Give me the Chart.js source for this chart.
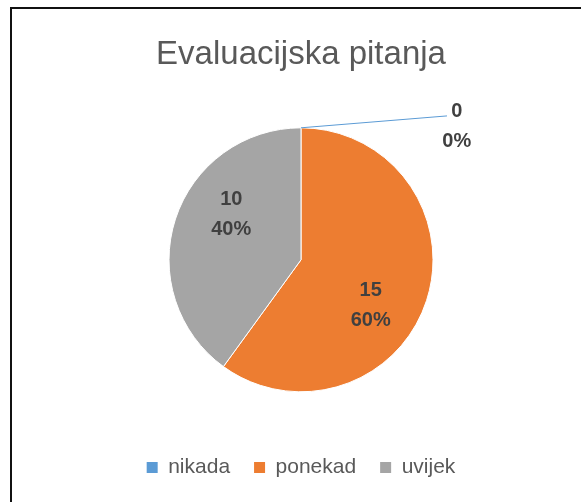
<!DOCTYPE html>
<html>
<head>
<meta charset="utf-8">
<script src="https://cdn.jsdelivr.net/npm/chart.js@4/dist/chart.umd.min.js"></script>
<style>
  html, body { margin: 0; padding: 0; background: #fff; }
  #wrap { position: relative; width: 581px; height: 502px; overflow: hidden; }
  #frame {
    position: absolute; left: 10px; top: 7px; width: 600px; height: 520px;
    border-left: 2px solid #111; border-top: 2px solid #111;
  }
  #chart { position: absolute; left: 0; top: 0; }
</style>
</head>
<body>
<div id="wrap">
  <div id="frame"></div>
  <canvas id="chart" width="581" height="502"></canvas>
</div>
<script>
const title = "Evaluacijska pitanja";
const categories = ["nikada", "ponekad", "uvijek"];
const counts = [0, 15, 10];
const colors = ["#5B9BD5", "#ED7D31", "#A5A5A5"];

const FONT = "'Liberation Sans', Arial, sans-serif";

// value + percent inside the slices, callout for empty ones
const sliceLabels = {
  id: "sliceLabels",
  afterDatasetsDraw(chart) {
    const ctx = chart.ctx;
    const meta = chart.getDatasetMeta(0);
    const data = chart.data.datasets[0].data;
    const total = data.reduce((a, b) => a + b, 0);
    ctx.save();
    ctx.font = "bold 20px " + FONT;
    ctx.fillStyle = "#404040";
    ctx.textAlign = "center";
    ctx.textBaseline = "middle";
    meta.data.forEach((arc, i) => {
      const p = arc.getProps(["x", "y", "startAngle", "endAngle", "outerRadius"], true);
      const r = p.outerRadius;
      const pct = Math.round((data[i] / total) * 100) + "%";
      let lx, ly;
      if (data[i] > 0) {
        const mid = (p.startAngle + p.endAngle) / 2 + 15 * Math.PI / 180;
        lx = p.x + Math.cos(mid) * r * 0.63;
        ly = p.y + Math.sin(mid) * r * 0.63;
      } else {
        const sx = p.x + Math.cos(p.startAngle) * r;
        const sy = p.y + Math.sin(p.startAngle) * r;
        const ex = p.x + r * 1.106;
        const ey = p.y - r * 1.09;
        ctx.strokeStyle = colors[i];
        ctx.lineWidth = 1;
        ctx.beginPath();
        ctx.moveTo(sx, sy);
        ctx.lineTo(ex, ey);
        ctx.stroke();
        lx = p.x + r * 1.18;
        ly = p.y - r * 1.01;
      }
      ctx.fillText(String(data[i]), lx, ly - 15);
      ctx.fillText(pct, lx, ly + 15);
    });
    ctx.restore();
  },
};

new Chart(document.getElementById("chart"), {
  type: "pie",
  data: {
    labels: categories,
    datasets: [
      {
        data: counts,
        backgroundColor: colors,
        borderColor: "#ffffff",
        borderWidth: 1,
        radius: 132,
      },
    ],
  },
  options: {
    responsive: false,
    animation: false,
    layout: { padding: { left: 21, right: 0, top: 0, bottom: 14 } },
    plugins: {
      title: {
        display: true,
        text: title,
        color: "#595959",
        font: { family: FONT, size: 33, weight: "normal" },
        padding: { top: 35, bottom: 12 },
      },
      legend: {
        position: "bottom",
        labels: {
          color: "#595959",
          font: { family: FONT, size: 21 },
          boxWidth: 11,
          boxHeight: 11,
          padding: 24,
          generateLabels(chart) {
            const items = Chart.overrides.pie.plugins.legend.labels.generateLabels(chart);
            items.forEach((it) => {
              it.lineWidth = 0;
              it.strokeStyle = it.fillStyle;
            });
            return items;
          },
        },
      },
      tooltip: { enabled: false },
    },
  },
  plugins: [sliceLabels],
});
</script>
</body>
</html>
